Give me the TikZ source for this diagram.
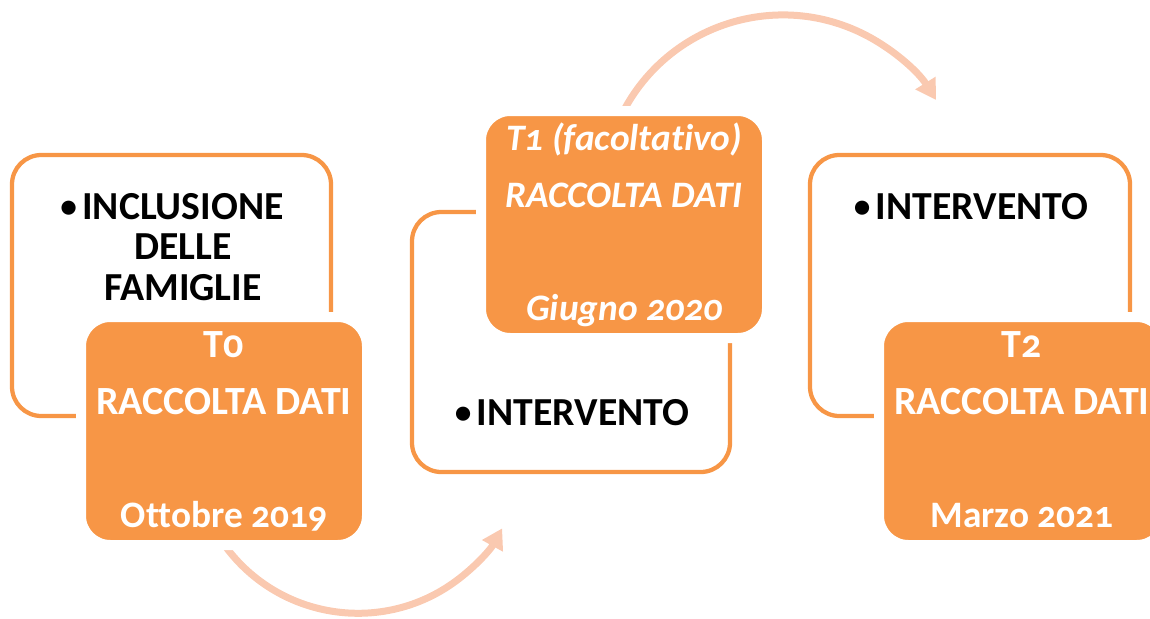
\documentclass[tikz,border=0pt]{standalone}
\usepackage{fontspec}
\setmainfont{Carlito}[Numbers=OldStyle,Ligatures={NoCommon}]
\usetikzlibrary{arrows.meta}

\definecolor{accentorange}{RGB}{247,150,70}
\definecolor{arrowpeach}{RGB}{250,201,176}

\tikzset{
  framebox/.style={draw=accentorange,line width=3.2pt,rounded corners=22pt},
  databox/.style={fill=accentorange,draw=white,line width=7.5pt,rounded corners=22pt},
  datatext/.style={text=white,anchor=base,inner sep=0pt,font=\bfseries\fontsize{30}{32}\selectfont},
  datetext/.style={datatext,font=\bfseries\fontsize{28}{30}\selectfont},
  optiontext/.style={datatext,font=\bfseries\itshape\fontsize{28}{30}\selectfont},
  itemtext/.style={text=black,anchor=base,inner sep=0pt,font=\bfseries\fontsize{29.8}{32}\selectfont},
  cyclearrow/.style={draw=arrowpeach,line width=5.25pt,-{Triangle[length=15pt,width=17pt]}}
}

\newcommand{\itembullet}{\llap{\raisebox{1pt}{\fontsize{25}{25}\selectfont\textbullet}\hspace{4pt}}}

\begin{document}
\begin{tikzpicture}[x=0.75pt,y=-0.75pt]
\useasboundingbox (0,0) rectangle (1150,618);

% arrows between the phases
\coordinate (arrowAstart) at (223,543);
\coordinate (arrowBstart) at (623,112);
\draw[cyclearrow] (arrowAstart) arc[start angle=145,end angle=29,radius=164.8];
\draw[cyclearrow] (arrowBstart) arc[start angle=207.5,end angle=328.1,radius=180.3];

% phase 1
\draw[framebox] (12,155) rectangle (331,416);
\draw[databox] (81,317) rectangle (367,545);
\node[itemtext] (incl1) at (183,219) {\itembullet INCLUSIONE};
\node[itemtext] (incl2) at (183,259) {DELLE};
\node[itemtext] (incl3) at (183,300) {FAMIGLIE};
\node[datatext] (tzero) at (224,357) {T0};
\node[datatext] (tzerodata) at (224,414) {RACCOLTA DATI};
\node[datetext] (tzerodate) at (224,527) {Ottobre 2019};

% phase 2
\draw[framebox] (412,212) rectangle (730,472);
\draw[databox] (481,111) rectangle (767,338);
\node[optiontext] (tone) at (624,150) {T1 (facoltativo)};
\node[optiontext] (tonedata) at (624,207) {RACCOLTA DATI};
\node[optiontext] (tonedate) at (624,320) {Giugno 2020};
\node[itemtext] (interv1) at (583,425) {\itembullet INTERVENTO};

% phase 3
\draw[framebox] (810,155) rectangle (1130,416);
\draw[databox] (879,317) rectangle (1166,545);
\node[itemtext] (interv2) at (982,219) {\itembullet INTERVENTO};
\node[datatext] (ttwo) at (1022,357) {T2};
\node[datatext] (ttwodata) at (1022,414) {RACCOLTA DATI};
\node[datetext] (ttwodate) at (1022,527) {Marzo 2021};
\end{tikzpicture}
\end{document}
